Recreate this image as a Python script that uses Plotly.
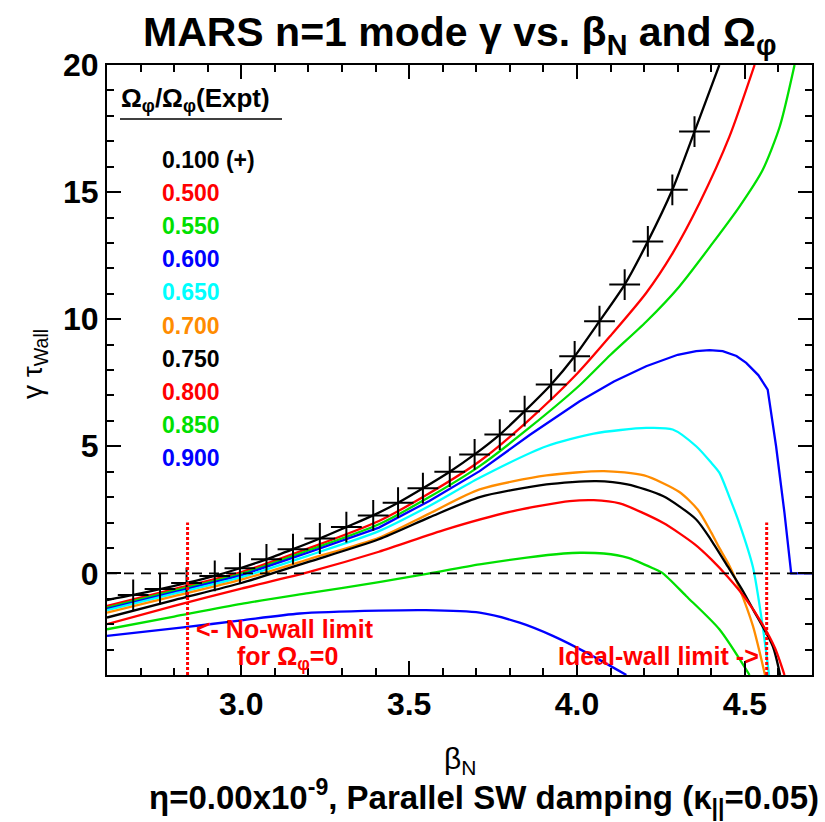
import plotly.graph_objects as go

# Growth rate gamma*tau_wall versus beta_N for each rotation fraction
rot_labels = ["0.100 (+)", "0.500", "0.550", "0.600", "0.650",
              "0.700", "0.750", "0.800", "0.850", "0.900"]
rot_colors = ["#000000", "#ff0000", "#00e000", "#0000ff", "#00ffff",
              "#ff8c00", "#000000", "#ff0000", "#00e000", "#0000ff"]

beta_100 = [2.600, 2.678, 2.758, 2.837, 2.921, 2.996, 3.075, 3.154, 3.234, 3.313,
            3.393, 3.467, 3.541, 3.621, 3.695, 3.770, 3.844, 3.923, 3.993, 4.067,
            4.142, 4.211, 4.284, 4.350, 4.424]
gamma_100 = [-1.05, -0.85, -0.62, -0.38, -0.10, 0.20, 0.55, 0.95, 1.37, 1.82,
             2.28, 2.78, 3.35, 4.00, 4.68, 5.46, 6.38, 7.43, 8.54, 9.92,
             11.36, 13.06, 15.09, 17.38, 20.00]

beta_500 = [2.60, 2.80, 3.00, 3.20, 3.41, 3.56, 3.71, 3.85, 4.00, 4.10, 4.206, 4.285,
            4.365, 4.454, 4.529]
gamma_500 = [-1.28, -0.62, 0.05, 0.98, 2.06, 3.15, 4.41, 5.95, 7.85, 9.35, 11.03, 12.60,
             14.57, 17.18, 20.00]

beta_550 = [2.60, 2.80, 3.00, 3.20, 3.41, 3.56, 3.71, 3.86, 4.008, 4.10, 4.206, 4.305,
            4.404, 4.484, 4.553, 4.604, 4.648]
gamma_550 = [-1.35, -0.68, -0.02, 0.90, 1.93, 3.00, 4.22, 5.75, 7.40, 8.60, 9.90, 11.29,
             12.99, 14.43, 15.87, 17.58, 20.00]

beta_600 = [2.60, 2.80, 3.00, 3.20, 3.41, 3.56, 3.71, 3.86, 4.008, 4.11, 4.206, 4.300,
            4.355, 4.395, 4.434, 4.475, 4.504, 4.540, 4.568, 4.593, 4.618, 4.638, 4.700]
gamma_600 = [-1.40, -0.74, -0.08, 0.82, 1.80, 2.85, 4.02, 5.45, 6.77, 7.55, 8.15, 8.60,
             8.74, 8.78, 8.74, 8.55, 8.28, 7.80, 7.23, 5.00, 2.38, 0.00, 0.00]

beta_650 = [2.60, 2.80, 3.00, 3.20, 3.41, 3.56, 3.71, 3.909, 4.050, 4.206, 4.285, 4.355,
            4.400, 4.424, 4.454, 4.484, 4.524, 4.553, 4.572]
gamma_650 = [-1.45, -0.80, -0.15, 0.70, 1.66, 2.65, 3.76, 5.00, 5.50, 5.72, 5.66, 5.00,
             4.35, 3.96, 3.00, 1.95, 0.25, -2.07, -4.00]

beta_700 = [2.60, 2.80, 3.00, 3.20, 3.41, 3.56, 3.71, 3.909, 4.080, 4.200, 4.305, 4.360,
            4.400, 4.424, 4.454, 4.484, 4.524, 4.560]
gamma_700 = [-1.55, -0.90, -0.25, 0.55, 1.40, 2.35, 3.30, 3.85, 4.02, 3.85, 3.20, 2.50,
             1.60, 1.00, 0.30, -0.60, -2.07, -4.00]

beta_750 = [2.60, 2.80, 3.00, 3.20, 3.41, 3.56, 3.71, 3.909, 4.057, 4.150, 4.256, 4.355,
            4.400, 4.450, 4.490, 4.524, 4.583, 4.605]
gamma_750 = [-1.74, -1.05, -0.38, 0.45, 1.34, 2.20, 3.00, 3.50, 3.63, 3.50, 3.04, 2.12,
             1.30, 0.25, -0.60, -1.41, -2.86, -4.00]

beta_800 = [2.60, 2.80, 3.00, 3.20, 3.41, 3.61, 3.81, 3.978, 4.050, 4.127, 4.256, 4.350,
            4.400, 4.450, 4.500, 4.550, 4.590, 4.618]
gamma_800 = [-2.00, -1.28, -0.60, 0.05, 0.85, 1.73, 2.45, 2.84, 2.88, 2.75, 1.99, 1.15,
             0.55, -0.15, -0.95, -1.95, -2.95, -4.00]

beta_850 = [2.60, 2.80, 3.00, 3.20, 3.41, 3.561, 3.71, 3.85, 3.96, 4.01, 4.08, 4.15,
            4.226, 4.256, 4.325, 4.424, 4.514]
gamma_850 = [-2.20, -1.70, -1.20, -0.78, -0.35, 0.00, 0.35, 0.62, 0.78, 0.81, 0.78, 0.62,
             0.20, 0.00, -0.89, -2.20, -4.00]

beta_900 = [2.60, 2.827, 3.00, 3.174, 3.41, 3.55, 3.71, 3.829, 3.928, 4.028, 4.147]
gamma_900 = [-2.46, -2.13, -1.85, -1.58, -1.47, -1.45, -1.55, -1.94, -2.46, -3.12, -4.00]

series = [(beta_100, gamma_100), (beta_500, gamma_500), (beta_550, gamma_550),
          (beta_600, gamma_600), (beta_650, gamma_650), (beta_700, gamma_700),
          (beta_750, gamma_750), (beta_800, gamma_800), (beta_850, gamma_850),
          (beta_900, gamma_900)]

# Stability limits (dotted red markers)
nowall_beta = 2.84
idealwall_beta = 4.565
limit_span = [-4.0, 2.0]

x_range = [2.6, 4.7]
y_range = [-4, 20]

# Plot-area pixel box used for placing free text in paper coordinates
W, H = 825, 822
PX0, PX1, PY0, PY1 = 107, 812, 65, 675


def px(x):
    return (x - PX0) / (PX1 - PX0)


def py(y):
    return (PY1 - y) / (PY1 - PY0)


FONT = "Liberation Sans, Arial, sans-serif"

fig = go.Figure()

for idx, ((bx, gy), col) in enumerate(zip(series, rot_colors)):
    # the 0.600 curve has sharp corners where it drops to zero: keep it linear
    shape = "linear" if idx == 3 else "spline"
    fig.add_trace(go.Scatter(x=bx, y=gy, mode="lines",
                             line=dict(color=col, width=2.3, shape=shape, smoothing=0.7),
                             showlegend=False))

# "+" symbols along the lowest-rotation curve
fig.add_trace(go.Scatter(x=beta_100[1:-1], y=gamma_100[1:-1], mode="markers",
                         marker=dict(symbol="cross-thin", size=22,
                                     line=dict(color="#000000", width=2)),
                         showlegend=False))

fig.add_hline(y=0, line=dict(color="#000000", width=1.6, dash="10px,7px"))
for b in (nowall_beta, idealwall_beta):
    fig.add_shape(type="line", x0=b, x1=b, y0=limit_span[0], y1=limit_span[1],
                  line=dict(color="#ff0000", width=3, dash="3px,2px"))

ann = []
# Title
ann.append(dict(text="MARS n=1 mode γ vs. β<sub>N</sub> and Ω<sub>φ</sub>",
                x=px(460), y=py(35), xref="paper", yref="paper",
                xanchor="center", yanchor="middle", showarrow=False,
                font=dict(family=FONT, size=41, color="#000000", weight="bold")))
# Axis titles
ann.append(dict(text="β<sub>N</sub>", x=px(460), y=py(760),
                xref="paper", yref="paper", xanchor="center", yanchor="middle",
                showarrow=False, font=dict(family=FONT, size=30, color="#000000")))
ann.append(dict(text="γ τ<sub>Wall</sub>", x=px(34), y=py(364), textangle=-90,
                xref="paper", yref="paper", xanchor="center", yanchor="middle",
                showarrow=False, font=dict(family=FONT, size=28, color="#000000")))
ann.append(dict(text="η=0.00x10<sup>-9</sup>, Parallel SW damping (κ<sub>||</sub>=0.05)",
                x=px(821), y=py(797), xref="paper", yref="paper",
                xanchor="right", yanchor="middle", showarrow=False,
                font=dict(family=FONT, size=33, color="#000000", weight="bold")))
# Legend header
ann.append(dict(text="Ω<sub>φ</sub>/Ω<sub>φ</sub>(Expt)", x=px(119), y=py(100),
                xref="paper", yref="paper", xanchor="left", yanchor="middle",
                showarrow=False, font=dict(family=FONT, size=26, color="#000000", weight="bold")))
# Legend entries
for i, (lab, col) in enumerate(zip(rot_labels, rot_colors)):
    ann.append(dict(text=lab, x=px(160), y=py(160 + 33.1 * i),
                    xref="paper", yref="paper", xanchor="left", yanchor="middle",
                    showarrow=False,
                    font=dict(family=FONT, size=23, color=col, weight="bold")))
# Limit labels
ann.append(dict(text="<- No-wall limit", x=px(195), y=py(629), xref="paper", yref="paper",
                xanchor="left", yanchor="middle", showarrow=False, borderpad=0,
                font=dict(family=FONT, size=25, color="#ff0000", weight="bold")))
ann.append(dict(text="for Ω<sub>φ</sub>=0", x=px(287), y=py(658), xref="paper", yref="paper",
                xanchor="center", yanchor="middle", showarrow=False, borderpad=0,
                font=dict(family=FONT, size=25, color="#ff0000", weight="bold")))
ann.append(dict(text="Ideal-wall limit ->", x=px(760), y=py(656), xref="paper", yref="paper",
                xanchor="right", yanchor="middle", showarrow=False, borderpad=0,
                font=dict(family=FONT, size=25, color="#ff0000", weight="bold")))

fig.add_shape(type="line", xref="paper", yref="paper", x0=px(120), x1=px(282),
              y0=py(119), y1=py(119), line=dict(color="#000000", width=1.6))

axis_common = dict(showgrid=False, zeroline=False, showline=True, linecolor="#000000",
                   linewidth=2, mirror="allticks", ticks="inside", tickcolor="#000000",
                   tickwidth=2, ticklen=14,
                   tickfont=dict(family=FONT, size=32, color="#000000", weight="bold"))

fig.update_layout(
    width=W, height=H,
    margin=dict(l=PX0, r=W - PX1, t=PY0, b=H - PY1),
    paper_bgcolor="#ffffff", plot_bgcolor="#ffffff",
    annotations=ann,
    xaxis=dict(range=x_range, tick0=2.5, dtick=0.5, tickformat=".1f",
               minor=dict(tick0=2.6, dtick=0.1, ticks="inside", ticklen=7,
                          tickwidth=1.5, tickcolor="#000000", showgrid=False),
               **axis_common),
    yaxis=dict(range=y_range, tick0=0, dtick=5,
               minor=dict(tick0=0, dtick=1, ticks="inside", ticklen=7,
                          tickwidth=1.5, tickcolor="#000000", showgrid=False),
               **axis_common),
)

fig.write_html("out.html")
